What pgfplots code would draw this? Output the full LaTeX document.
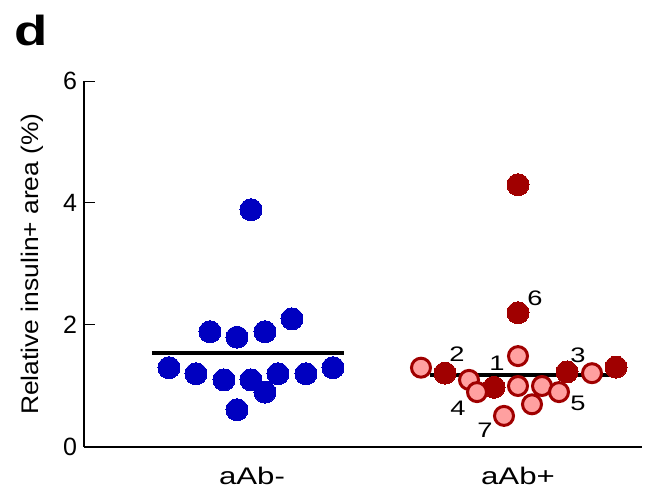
\documentclass[border=0pt]{standalone}
\usepackage{fontspec}
\setmainfont{Liberation Sans}
\newfontfamily\widefont[FakeStretch=1.3]{Liberation Sans}
\newfontfamily\labfont[FakeStretch=1.1]{Liberation Sans}
\usepackage{pgfplots}
\pgfplotsset{compat=1.18}
\definecolor{dblue}{HTML}{0000C0}
\definecolor{dred}{HTML}{A00000}
\definecolor{lred}{HTML}{FFA0A0}

\begin{document}
\begin{tikzpicture}
  \begin{axis}[
      name=ax,
      scale only axis,
      width=279pt, height=183pt,
      at={(0,0)}, anchor=south west,
      xmin=84, xmax=642, ymin=0, ymax=6,
      axis lines=left,
      axis line style={-, line width=1pt},
      xtick={252,518},
      xticklabels={aAb-,aAb+},
      major x tick style={draw=none},
      ytick={0,2,4,6},
      tick align=inside,
      major tick length=5.5pt,
      y tick style={line width=0.5pt, black},
      /pgf/number format/assume math mode=true,
      yticklabel style={font=\fontsize{12.5}{14}\selectfont},
      xticklabel style={font=\widefont\fontsize{12}{14}\selectfont, anchor=base, yshift=-19pt},
      ylabel={Relative insulin+ area (\%)},
      ylabel style={font=\labfont\fontsize{12}{14}\selectfont, at={(axis description cs:-0.093,0.5)}, anchor=center},
      clip=false,
    ]
    % aAb- group
    \addplot[only marks, color=dblue, mark=*, mark size=5.5pt, mark options={draw=dblue, line width=0pt, fill=dblue}]
      coordinates {(251,3.89) (210,1.89) (237,1.80) (265,1.89) (292,2.10)
                   (169,1.30) (196,1.20) (224,1.10) (251,1.10) (278,1.20)
                   (306,1.20) (333,1.30) (265,0.90) (237,0.61)};
    % aAb+ group, filled dark
    \addplot[only marks, color=dred, mark=*, mark size=5.5pt, mark options={draw=dred, line width=0pt, fill=dred}]
      coordinates {(518,4.30) (518,2.20) (445,1.21) (494,0.98) (567,1.23) (616,1.31)};
    % aAb+ group, light with dark rim
    \addplot[only marks, color=dred, mark=*, mark size=4.75pt, mark options={draw=dred, line width=1.5pt, fill=lred}]
      coordinates {(518,1.49) (421,1.30) (469,1.10) (477,0.90) (518,1.00)
                   (542,1.00) (532,0.70) (559,0.90) (592,1.21) (504,0.51)};
    % group means
    \addplot[black, line width=1.65pt] coordinates {(152,1.54) (344,1.54)};
    \addplot[black, line width=1.65pt] coordinates {(430,1.18) (622,1.18)};

    \begin{scope}[every node/.style={font=\widefont\fontsize{10.5}{12}\selectfont, inner sep=0pt}]
      \node at (axis cs:535,2.44) {6};
      \node at (axis cs:497,1.38) {1};
      \node at (axis cs:457,1.52) {2};
      \node at (axis cs:578,1.51) {3};
      \node at (axis cs:458,0.64) {4};
      \node at (axis cs:578,0.72) {5};
      \node at (axis cs:485,0.28) {7};
    \end{scope}
  \end{axis}
  \node[anchor=base west, inner sep=0pt, font=\widefont\fontsize{21}{25}\selectfont\bfseries] at (-35pt,200.5pt) {d};
  \path (-42pt,-25pt) rectangle (285pt,223.5pt);
\end{tikzpicture}
\end{document}
